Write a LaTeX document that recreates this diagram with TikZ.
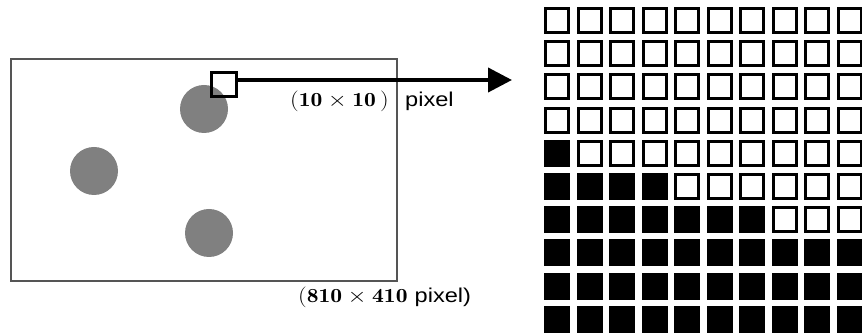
\documentclass[tikz,border=0pt]{standalone}
\usepackage{fontspec}
\newfontfamily\pixfont{Liberation Sans}
\usetikzlibrary{arrows.meta}
\definecolor{disk}{RGB}{128,128,128}
\definecolor{frame}{RGB}{85,85,85}
\newcommand{\wideT}[1]{\scalebox{1.18}[1]{#1}}
\tikzset{
  disknode/.style={circle,fill=disk,inner sep=0pt,minimum size=48pt},
  cellw/.style={draw=black,fill=white,line width=3pt,inner sep=0pt,minimum width=23pt,minimum height=24pt},
  cellb/.style={draw=black,fill=black,line width=3pt,inner sep=0pt,minimum width=23pt,minimum height=24pt},
  lbl/.style={inner sep=0pt,font=\fontsize{20}{22}\selectfont}
}
\begin{document}
\begin{tikzpicture}[x=1pt,y=-1pt]
\useasboundingbox[fill=white] (0,0) rectangle (862,336);
% image frame
\node[draw=frame,line width=1.4pt,inner sep=0pt,minimum width=386pt,minimum height=222pt] (img) at (204,170) {};
% disks
\node[disknode] (d1) at (204,109) {};
\node[disknode] (d2) at (94,171) {};
\node[disknode] (d3) at (209,233) {};
% window
\node[draw=black,line width=3pt,inner sep=0pt,minimum width=25pt,minimum height=24pt] (win) at (224,84.5) {};
\coordinate (tip) at (512,80);
\draw[line width=4pt,-{Triangle[length=24pt,width=24pt]}] (win.east |- 0,80) -- (tip);
% labels
\node[lbl,anchor=base west] (l1) at (290,107) {\wideT{$(\mathbf{10}\times\mathbf{10}\,)$}};
\node[lbl,anchor=base west] (l1b) at (405,107) {\wideT{\pixfont pixel}};
\node[lbl,anchor=base west] (l2) at (298,303) {\wideT{$(\mathbf{810}\times\mathbf{410}$ {\pixfont pixel)}}};
% grid
\foreach \r/\nb in {0/0,1/0,2/0,3/0,4/1,5/4,6/7,7/10,8/10,9/10}{
  \foreach \c in {0,...,9}{
    \pgfmathsetmacro{\cx}{544+13+\c*32.56}
    \pgfmathsetmacro{\cy}{7+13.5+\r*33.2}
    \ifnum\c<\nb
      \node[cellb] (g-\r-\c) at (\cx,\cy) {};
    \else
      \node[cellw] (g-\r-\c) at (\cx,\cy) {};
    \fi
  }
}
\end{tikzpicture}
\end{document}
